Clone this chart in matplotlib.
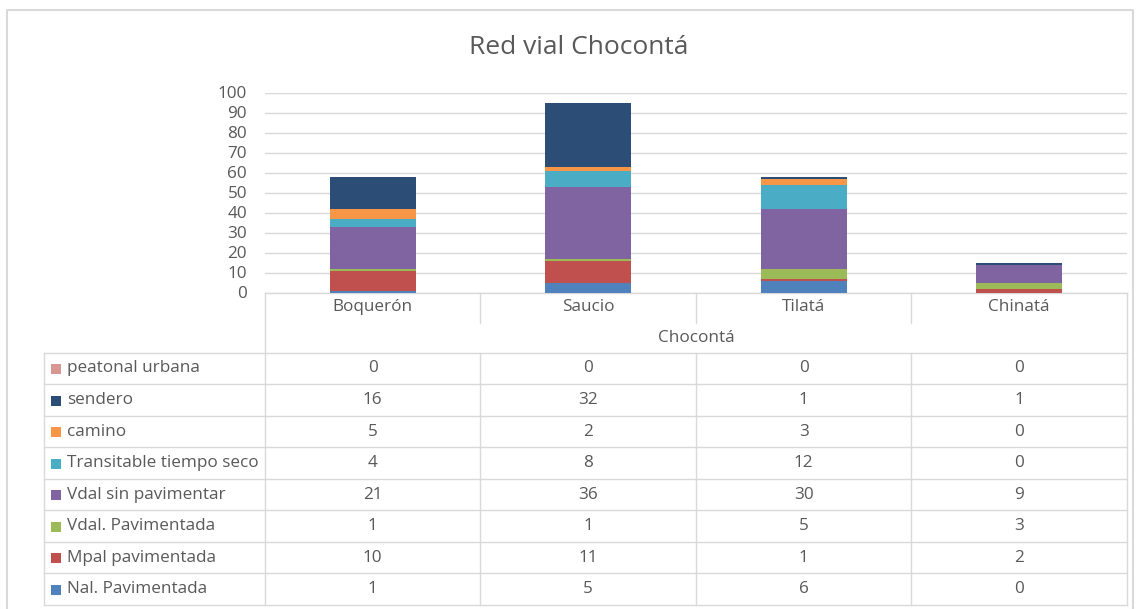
import matplotlib.pyplot as plt
from matplotlib.patches import Rectangle

plt.rcParams['font.family'] = ['Open Sans', 'DejaVu Sans']

categories = ['Boquerón', 'Saucio', 'Tilatá', 'Chinatá']
group_label = 'Chocontá'

# series, bottom of the stack first
series_names = ['Nal. Pavimentada', 'Mpal pavimentada', 'Vdal. Pavimentada',
                'Vdal sin pavimentar', 'Transitable tiempo seco', 'camino',
                'sendero', 'peatonal urbana']
nal_pav = [1, 5, 6, 0]
mpal_pav = [10, 11, 1, 2]
vdal_pav = [1, 1, 5, 3]
vdal_sin = [21, 36, 30, 9]
transitable = [4, 8, 12, 0]
camino = [5, 2, 3, 0]
sendero = [16, 32, 1, 1]
peatonal = [0, 0, 0, 0]
series_values = [nal_pav, mpal_pav, vdal_pav, vdal_sin, transitable, camino, sendero, peatonal]
colors = ['#4F81BD', '#C0504D', '#9BBB59', '#8064A2', '#4BACC6', '#F79646', '#2C4D75', '#D99694']

W, H = 1138, 609
grey = '#595959'
linec = '#D9D9D9'
fs = 12.3

fig = plt.figure(figsize=(W / 100, H / 100), dpi=100)

# overlay in pixel coordinates for border and data table
bg = fig.add_axes([0, 0, 1, 1])
bg.set_xlim(0, W)
bg.set_ylim(H, 0)
bg.axis('off')

# chart border
bg.plot([7, 7, 1133, 1133], [609, 10, 10, 609], color='#D9D9D9', lw=1.5)

left, right = 265, 1127
y0, y100 = 292.5, 92.5
ax = fig.add_axes([left / W, 1 - y0 / H, (right - left) / W, (y0 - y100) / H])
x = list(range(len(categories)))
bottom = [0] * len(categories)
for vals, c in zip(series_values, colors):
    ax.bar(x, vals, 0.4, bottom=bottom, color=c, zorder=3)
    bottom = [b + v for b, v in zip(bottom, vals)]
ax.set_xlim(-0.5, len(categories) - 0.5)
ax.set_ylim(0, 100)
ax.set_yticks(range(0, 101, 10))
ax.set_xticks([])
ax.tick_params(axis='y', length=0, pad=13, labelsize=fs, labelcolor=grey)
ax.grid(axis='y', color=linec, lw=1, zorder=0)
for s in ax.spines.values():
    s.set_visible(False)
ax.patch.set_alpha(0)

fig.text(579 / W, 1 - 48 / H, 'Red vial Chocontá', ha='center', va='center',
         fontsize=19, color=grey)

# data table
colw = (right - left) / len(categories)
tleft = 44
row_top = 352.7
rowh = (605 - row_top) / len(series_names)
lw = 1
# header area
bg.plot([left, right], [y0, y0], color=linec, lw=lw)
bg.plot([left, left], [y0, 605], color=linec, lw=lw)
bg.plot([right, right], [y0, 605], color=linec, lw=lw)
for i in range(1, len(categories)):
    xi = left + i * colw
    bg.plot([xi, xi], [y0, 322.7], color=linec, lw=lw)
    bg.plot([xi, xi], [row_top, 605], color=linec, lw=lw)
for i, cat in enumerate(categories):
    bg.text(left + (i + 0.5) * colw, 307, cat, ha='center', va='center',
            fontsize=fs, color=grey)
bg.text((left + right) / 2, 337.5, group_label, ha='center', va='center',
        fontsize=fs, color=grey)
# rows
bg.plot([tleft, tleft], [row_top, 605], color=linec, lw=lw)
for r in range(len(series_names) + 1):
    yr = row_top + r * rowh
    bg.plot([tleft, right], [yr, yr], color=linec, lw=lw)
for r, k in enumerate(range(len(series_names) - 1, -1, -1)):
    yc = row_top + (r + 0.5) * rowh
    bg.add_patch(Rectangle((51.5, yc - 4.5), 10, 10, color=colors[k], lw=0))
    bg.text(67, yc, series_names[k], ha='left', va='center', fontsize=fs, color=grey)
    for i, v in enumerate(series_values[k]):
        bg.text(left + (i + 0.5) * colw, yc, str(v), ha='center', va='center',
                fontsize=fs, color=grey)

fig.savefig('out.png', dpi=100)
